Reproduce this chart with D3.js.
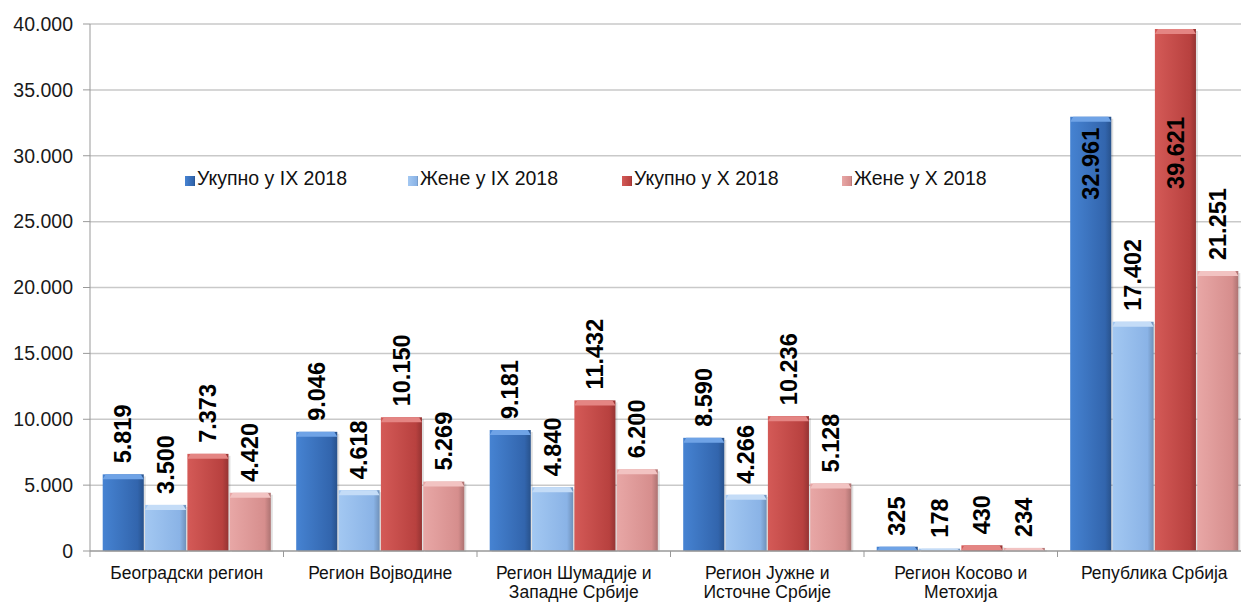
<!DOCTYPE html>
<html>
<head>
<meta charset="utf-8">
<script src="https://cdn.jsdelivr.net/npm/d3@7"></script>
<style>
  body { margin: 0; background: #fff; }
  svg { font-family: "Liberation Sans", Arial, sans-serif; }
  .grid line { stroke: #c9c9c9; stroke-width: 1.5; }
  .tick-label { font-size: 19.5px; fill: #1a1a1a; }
  .cat-label { font-size: 17.5px; fill: #111; }
  .val-label { font-size: 23.5px; font-weight: bold; fill: #000; }
  .legend-label { font-size: 19.5px; fill: #111; }
</style>
</head>
<body>
<div id="chart"></div>
<script>
// Regions (x categories)
var regions = [
  ["Београдски регион"],
  ["Регион Војводине"],
  ["Регион Шумадије и", "Западне Србије"],
  ["Регион Јужне и", "Источне Србије"],
  ["Регион Косово и", "Метохија"],
  ["Република Србија"]
];

// Series
var seriesNames = ["Укупно у IX 2018", "Жене у IX 2018", "Укупно у X 2018", "Жене у X 2018"];
var totalSep   = [5819, 9046, 9181, 8590, 325, 32961];
var womenSep   = [3500, 4618, 4840, 4266, 178, 17402];
var totalOct   = [7373, 10150, 11432, 10236, 430, 39621];
var womenOct   = [4420, 5269, 6200, 5128, 234, 21251];

// Y axis ticks
var yTicks = [0, 5000, 10000, 15000, 20000, 25000, 30000, 35000, 40000];

var seriesValues = [totalSep, womenSep, totalOct, womenOct];

// Colors per series: [left/light, right/dark, bevel top]
var colors = [
  ["#4683d2", "#3265ad", "#6fa3e6"],
  ["#a3c8f2", "#8ab3e6", "#c4dcf7"],
  ["#d45a57", "#b8413f", "#e48583"],
  ["#e8a7a6", "#d68e8d", "#f2c3c2"]
];

var W = 1241, H = 602;
var margin = { left: 90, right: -10, top: 24, bottom: 51 };

var svg = d3.select("#chart").append("svg")
  .attr("width", W).attr("height", H);

var x0 = d3.scaleBand()
  .domain(d3.range(regions.length))
  .range([margin.left, W - margin.right])
  .paddingInner(0).paddingOuter(0);

var x1 = d3.scaleBand()
  .domain(d3.range(seriesNames.length))
  .range([0, x0.bandwidth()])
  .paddingOuter(0.3).paddingInner(0.03);

var y = d3.scaleLinear()
  .domain([0, 40000])
  .range([H - margin.bottom, margin.top]);

var fmt = function(v) { return d3.format(",")(v).replace(/,/g, "."); };

// Gradients
var defs = svg.append("defs");
colors.forEach(function(c, i) {
  var g = defs.append("linearGradient").attr("id", "grad" + i)
    .attr("x1", 0).attr("x2", 1).attr("y1", 0).attr("y2", 0);
  g.append("stop").attr("offset", "0%").attr("stop-color", c[0]);
  g.append("stop").attr("offset", "85%").attr("stop-color", c[1]);
  g.append("stop").attr("offset", "100%").attr("stop-color", d3.color(c[1]).darker(0.6));
});

// Gridlines
svg.append("g").attr("class", "grid")
  .selectAll("line").data(yTicks.slice(1)).enter()
  .append("line")
    .attr("x1", margin.left).attr("x2", W)
    .attr("y1", function(d) { return y(d); })
    .attr("y2", function(d) { return y(d); });

// Y axis
var yAxis = svg.append("g");
yAxis.append("line")
  .attr("x1", margin.left).attr("x2", margin.left)
  .attr("y1", y(40000)).attr("y2", y(0))
  .attr("stroke", "#999").attr("stroke-width", 1);
yAxis.selectAll(".ytick").data(yTicks).enter()
  .append("line")
    .attr("x1", margin.left - 7).attr("x2", margin.left)
    .attr("y1", function(d) { return y(d); })
    .attr("y2", function(d) { return y(d); })
    .attr("stroke", "#999");
yAxis.selectAll(".tick-label").data(yTicks).enter()
  .append("text")
    .attr("class", "tick-label")
    .attr("x", margin.left - 17)
    .attr("y", function(d) { return y(d); })
    .attr("dy", "0.35em")
    .attr("text-anchor", "end")
    .text(function(d) { return fmt(d); });

// Bars
var groups = svg.append("g").selectAll("g")
  .data(regions).enter()
  .append("g")
    .attr("transform", function(d, i) { return "translate(" + x0(i) + ",0)"; });

groups.each(function(r, ri) {
  var g = d3.select(this);
  seriesValues.forEach(function(vals, si) {
    var v = vals[ri];
    var bx = x1(si), bw = x1.bandwidth();
    var top = y(v), h = y(0) - y(v);
    // shadow
    g.append("rect")
      .attr("x", bx + 2).attr("y", top + 2)
      .attr("width", bw).attr("height", Math.max(h - 1, 0))
      .attr("fill", "#000").attr("opacity", 0.12);
    g.append("rect")
      .attr("x", bx).attr("y", top)
      .attr("width", bw).attr("height", h)
      .attr("fill", "url(#grad" + si + ")");
    // bevel on top
    var bev = Math.min(5, h);
    g.append("path")
      .attr("d", "M" + bx + "," + (top + bev) + "L" + (bx + 3) + "," + top +
                 "L" + (bx + bw - 3) + "," + top + "L" + (bx + bw) + "," + (top + bev) + "Z")
      .attr("fill", colors[si][2]);
  });
});

// Value labels
groups.each(function(r, ri) {
  var g = d3.select(this);
  seriesValues.forEach(function(vals, si) {
    var v = vals[ri];
    var cx = x1(si) + x1.bandwidth() / 2;
    var top = y(v);
    var lab = g.append("text")
      .attr("class", "val-label")
      .attr("dy", "0.35em")
      .text(fmt(v));
    if (v > 30000) {
      // inside bar, clamped below the top region
      var ly = Math.max(top + 11, y(32940));
      lab.attr("text-anchor", "end")
        .attr("transform", "translate(" + cx + "," + ly + ") rotate(-90)");
    } else {
      lab.attr("text-anchor", "start")
        .attr("transform", "translate(" + cx + "," + (top - 11) + ") rotate(-90)");
    }
  });
});

// X axis
var xAxis = svg.append("g");
xAxis.append("line")
  .attr("x1", margin.left).attr("x2", W)
  .attr("y1", y(0)).attr("y2", y(0))
  .attr("stroke", "#999").attr("stroke-width", 1.5);
xAxis.selectAll(".xtick").data(d3.range(regions.length + 1)).enter()
  .append("line")
    .attr("x1", function(d) { return margin.left + d * x0.bandwidth(); })
    .attr("x2", function(d) { return margin.left + d * x0.bandwidth(); })
    .attr("y1", y(0)).attr("y2", y(0) + 6)
    .attr("stroke", "#999");
xAxis.selectAll(".cat-label").data(regions).enter()
  .append("text")
    .attr("class", "cat-label")
    .attr("text-anchor", "middle")
    .attr("x", function(d, i) { return x0(i) + x0.bandwidth() / 2; })
    .attr("y", y(0) + 28)
    .each(function(d) {
      var t = d3.select(this);
      d.forEach(function(line, li) {
        t.append("tspan")
          .attr("x", t.attr("x"))
          .attr("dy", li === 0 ? 0 : 19)
          .text(line);
      });
    });

// Legend
var legendX = [185, 408, 622, 842];
var legend = svg.append("g").selectAll("g")
  .data(seriesNames).enter()
  .append("g")
    .attr("transform", function(d, i) { return "translate(" + legendX[i] + ",185)"; });
legend.append("rect")
  .attr("x", 0).attr("y", -9)
  .attr("width", 10).attr("height", 10)
  .attr("fill", function(d, i) { return "url(#grad" + i + ")"; });
legend.append("text")
  .attr("class", "legend-label")
  .attr("x", 12)
  .text(function(d) { return d; });
</script>
</body>
</html>
